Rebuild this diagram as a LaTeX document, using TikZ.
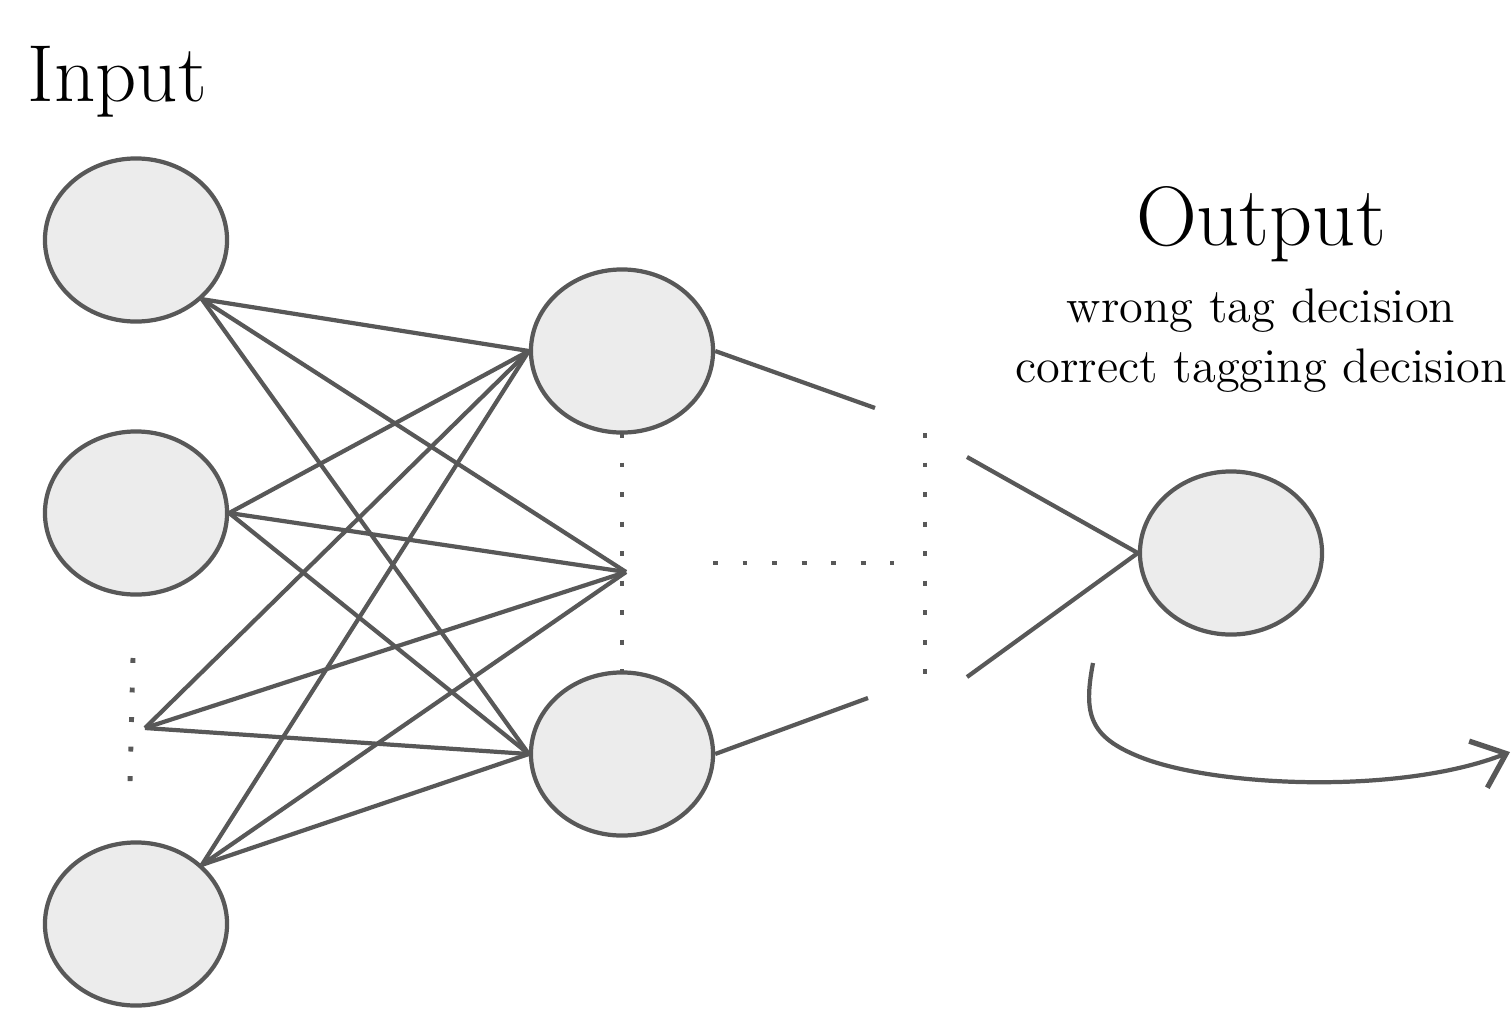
\documentclass[tikz,border=0pt]{standalone}
\usepackage{xcolor}
\usepackage{tikz}
\usetikzlibrary{positioning,arrows.meta,shapes.geometric}
\definecolor{edgegray}{HTML}{585858}
\definecolor{cellgray}{HTML}{ECECEC}

\begin{document}
\begin{tikzpicture}[x=0.01cm,y=-0.01cm,
    neuron/.style={ellipse,draw=edgegray,fill=cellgray,line width=1.2pt,
      minimum width=1.82cm,minimum height=1.63cm,inner sep=0pt},
    wire/.style={draw=edgegray,line width=1.2pt},
    dots/.style={draw=edgegray,line width=1.4pt,dash pattern=on 1.4pt off 7pt},
    big/.style={font=\fontsize{23}{27}\selectfont,inner sep=0pt}]
    \useasboundingbox (0,0) rectangle (1512,1009);

    % input layer
    \node[neuron] (I1) at (136,240) {};
    \node[neuron] (I2) at (136,513) {};
    \node[neuron] (I3) at (136,924) {};
    \coordinate (Idots) at (145,728);
    % hidden layer
    \node[neuron] (H1) at (622,351) {};
    \node[neuron] (H2) at (622,754) {};
    \coordinate (Hdots) at (626,572);
    % output
    \node[neuron] (O) at (1231,553) {};

    \node[big,anchor=base west] (InLabel) at (27,101) {Input};
    \node[big,anchor=base,font=\fontsize{24}{28}\selectfont] (OutLabel) at (1261,245) {Output};
    \node[anchor=north,align=center,inner sep=0pt,
      font=\fontsize{13.8}{17.2}\selectfont] (OutText) at (1261,288)
      {wrong tag decision\\correct tagging decision};

    \foreach \a in {I1.south east,I2.east,Idots,I3.north east}
      \foreach \b in {H1.west,Hdots,H2.west}
        \draw[wire] (\a) -- (\b);

    \coordinate (H1r) at (875,408);
    \coordinate (H2r) at (868,698);
    \coordinate (O1l) at (967,457);
    \coordinate (O2l) at (967,677);
    \draw[wire] (H1.east) -- (H1r);
    \draw[wire] (H2.east) -- (H2r);
    \draw[wire] (O1l) -- (O.west);
    \draw[wire] (O2l) -- (O.west);

    % dotted gaps
    \draw[dots] (133,658) -- (130,782);
    \draw[dots] (622,433) -- (622,676);
    \draw[dots] (925,433) -- (925,676);
    \draw[dots] (713,563) -- (894,563);

    % feedback arrow
    \coordinate (LoopA) at (1093,663);
    \coordinate (LoopB) at (1140,757);
    \coordinate (LoopC) at (1510,752);
    \draw[wire,-{Straight Barb[length=3mm,width=5mm,line width=1.5pt]}] (LoopA)
      .. controls (1083,715) and (1090,737) .. (LoopB)
      .. controls (1215,787) and (1400,795) .. (LoopC);
\end{tikzpicture}
\end{document}
